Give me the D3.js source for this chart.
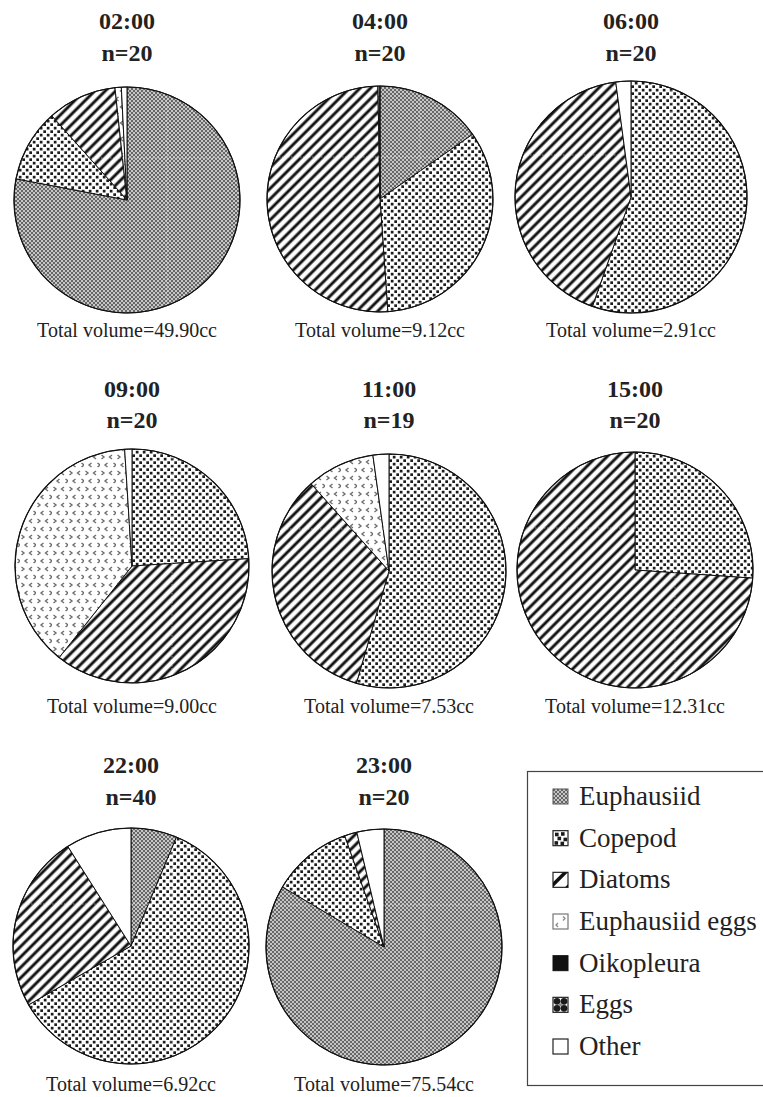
<!DOCTYPE html>
<html>
<head>
<meta charset="utf-8">
<script src="https://cdn.jsdelivr.net/npm/d3@7"></script>
<style>
  html, body { margin: 0; padding: 0; background: #fff; }
  svg { display: block; }
</style>
</head>
<body>
<svg id="chart" width="763" height="1097"></svg>
<script>
// Sampling times, sample sizes and total stomach-content volumes
const times = ["02:00", "04:00", "06:00", "09:00", "11:00", "15:00", "22:00", "23:00"];
const sampleSizes = [20, 20, 20, 20, 19, 20, 40, 20];
const totalVolumes = ["49.90", "9.12", "2.91", "9.00", "7.53", "12.31", "6.92", "75.54"];

// Prey categories (legend order = slice order, clockwise from 12 o'clock)
const categories = ["Euphausiid", "Copepod", "Diatoms", "Euphausiid eggs", "Oikopleura", "Eggs", "Other"];

// Percent of total volume per category, one value per sampling time
const euphausiid     = [78.0, 15.3,  0.0,  0.0,  0.0,  0.0,  6.3, 83.5];
const copepod        = [10.4, 33.6, 55.4, 24.0, 54.5, 26.1, 60.4, 11.1];
const diatoms        = [ 9.9, 50.8, 42.5, 36.7, 33.9, 73.9, 24.3,  1.7];
const euphausiidEggs = [ 0.9,  0.2,  0.0, 38.3,  9.4,  0.0,  0.0,  0.0];
const oikopleura     = [ 0.0,  0.0,  0.0,  0.0,  0.0,  0.0,  0.0,  0.0];
const eggs           = [ 0.0,  0.0,  0.0,  0.0,  0.0,  0.0,  0.0,  0.0];
const other          = [ 0.8,  0.1,  2.1,  1.0,  2.2,  0.0,  9.0,  3.7];

const seriesByCategory = [euphausiid, copepod, diatoms, euphausiidEggs, oikopleura, eggs, other];

// ---- layout (pie centres / radii per panel, text rows) ----
const panelCx = [127, 380, 631, 132, 389, 635, 131, 384];
const panelCy = [200, 199, 197, 566, 571, 570, 946, 947];
const panelR  = [113, 113, 116, 117, 117, 118, 118, 118];
const panelRow = [0, 0, 0, 1, 1, 1, 2, 2];
const timeBaseline  = [29, 397, 773];
const nBaseline     = [61, 428, 805];
const totalBaseline = [337, 713, 1091];

const serif = "'Liberation Serif', 'Times New Roman', Times, serif";

const svg = d3.select("#chart");
const defs = svg.append("defs");

// ---- fill patterns ----
function makePattern(id, w, h, extra) {
  const p = defs.append("pattern")
    .attr("id", id)
    .attr("patternUnits", "userSpaceOnUse")
    .attr("width", w).attr("height", h);
  if (extra) extra(p);
  return p;
}

// Euphausiid: fine grey checker
makePattern("pat-euph", 4, 4, p => {
  p.append("rect").attr("width", 4).attr("height", 4).attr("fill", "#c6c6c6");
  p.append("rect").attr("x", 0).attr("y", 0).attr("width", 2).attr("height", 2).attr("fill", "#666");
  p.append("rect").attr("x", 2).attr("y", 2).attr("width", 2).attr("height", 2).attr("fill", "#666");
});

// Copepod: staggered dark dots on white
makePattern("pat-cope", 7, 7, p => {
  p.append("rect").attr("width", 7).attr("height", 7).attr("fill", "#fff");
  p.append("rect").attr("x", 0.3).attr("y", 0.3).attr("width", 2.7).attr("height", 2.7).attr("fill", "#1c1c1c");
  p.append("rect").attr("x", 3.8).attr("y", 3.8).attr("width", 2.7).attr("height", 2.7).attr("fill", "#1c1c1c");
});

// Diatoms: soft-edged diagonal stripes
const stripeGrad = defs.append("linearGradient").attr("id", "grad-stripe")
  .attr("x1", 0).attr("x2", 1).attr("y1", 0).attr("y2", 0);
[[0, "#fff"], [0.18, "#fff"], [0.42, "#111"], [0.58, "#111"], [0.82, "#fff"], [1, "#fff"]]
  .forEach(([o, c]) => stripeGrad.append("stop").attr("offset", o).attr("stop-color", c));
makePattern("pat-diat", 7.4, 7.4, p => {
  p.attr("patternTransform", "rotate(45)");
  p.append("rect").attr("width", 7.4).attr("height", 7.4).attr("fill", "url(#grad-stripe)");
});

// Euphausiid eggs: grey chevrons, alternating direction
makePattern("pat-eegg", 16, 16, p => {
  p.append("rect").attr("width", 16).attr("height", 16).attr("fill", "#fff");
  const chev = [
    "M1.5,1 L4,3 L1.5,5",
    "M12,1 L9.5,3 L12,5",
    "M7.5,9 L5,11 L7.5,13",
    "M13.5,9 L16,11 L13.5,13"
  ];
  chev.forEach(d => p.append("path").attr("d", d).attr("fill", "none")
    .attr("stroke", "#6f6f6f").attr("stroke-width", 1.4));
});

// Eggs: black blobs
makePattern("pat-eggs", 8, 8, p => {
  p.append("rect").attr("width", 8).attr("height", 8).attr("fill", "#fff");
  p.append("circle").attr("cx", 2).attr("cy", 2).attr("r", 2.2).attr("fill", "#111");
  p.append("circle").attr("cx", 6).attr("cy", 6).attr("r", 2.2).attr("fill", "#111");
});

const fills = ["url(#pat-euph)", "url(#pat-cope)", "url(#pat-diat)", "url(#pat-eegg)", "#111", "url(#pat-eggs)", "#fff"];
const color = d3.scaleOrdinal().domain(categories).range(fills);

// ---- pies ----
const pie = d3.pie().sort(null).value(d => d.value);

times.forEach((t, i) => {
  const cx = panelCx[i], cy = panelCy[i], r = panelR[i], row = panelRow[i];
  const data = categories.map((c, k) => ({ category: c, value: seriesByCategory[k][i] }))
    .filter(d => d.value > 0);
  const arc = d3.arc().innerRadius(0).outerRadius(r);

  const g = svg.append("g").attr("transform", `translate(${cx},${cy})`);

  g.selectAll("path.slice")
    .data(pie(data))
    .join("path")
    .attr("class", "slice")
    .attr("d", arc)
    .attr("fill", d => color(d.data.category))
    .attr("stroke", "#111")
    .attr("stroke-width", 1)
    .attr("stroke-linejoin", "round");

  // faint tile seams across the fill
  const clipId = "clip-" + i;
  defs.append("clipPath").attr("id", clipId)
    .append("circle").attr("cx", cx).attr("cy", cy).attr("r", r - 1.5);
  const seams = svg.append("g").attr("clip-path", `url(#${clipId})`)
    .attr("stroke", "#fff").attr("stroke-opacity", 0.45).attr("stroke-width", 1)
    .attr("stroke-dasharray", "1.5 1.5");
  seams.append("line").attr("x1", cx + 40).attr("x2", cx + 40).attr("y1", cy - r).attr("y2", cy + r);
  seams.append("line").attr("x1", cx - r).attr("x2", cx + r).attr("y1", cy - 42).attr("y2", cy - 42);

  svg.append("circle").attr("cx", cx).attr("cy", cy).attr("r", r)
    .attr("fill", "none").attr("stroke", "#111").attr("stroke-width", 1.2);

  svg.append("text")
    .attr("x", cx).attr("y", timeBaseline[row])
    .attr("text-anchor", "middle")
    .attr("font-family", serif)
    .attr("font-weight", "bold").attr("font-size", 24).attr("fill", "#222")
    .text(t);
  svg.append("text")
    .attr("x", cx).attr("y", nBaseline[row])
    .attr("text-anchor", "middle")
    .attr("font-family", serif)
    .attr("font-weight", "bold").attr("font-size", 24).attr("fill", "#222")
    .text("n=" + sampleSizes[i]);
  svg.append("text")
    .attr("x", cx).attr("y", totalBaseline[row])
    .attr("text-anchor", "middle")
    .attr("font-family", serif)
    .attr("font-size", 20).attr("fill", "#222")
    .text("Total volume=" + totalVolumes[i] + "cc");
});

// ---- legend ----
const legend = svg.append("g");
legend.append("rect")
  .attr("x", 527.5).attr("y", 771.5).attr("width", 260).attr("height", 314)
  .attr("fill", "#fff").attr("stroke", "#444").attr("stroke-width", 1.2);

// swatch artwork, drawn in a 15x15 box
const sw = 15;
function drawSwatch(gs, k) {
  if (k === 0) {
    gs.append("rect").attr("width", sw).attr("height", sw).attr("fill", "url(#pat-euph)")
      .attr("stroke", "#555").attr("stroke-width", 1);
  } else if (k === 1) {
    gs.append("rect").attr("width", sw).attr("height", sw).attr("fill", "#fff")
      .attr("stroke", "#222").attr("stroke-width", 1.2);
    [[2, 2], [8, 1.5], [4.5, 6], [10.5, 7], [1.5, 10.5], [7.5, 11]].forEach(([x, y]) =>
      gs.append("rect").attr("x", x).attr("y", y).attr("width", 3.6).attr("height", 3.6).attr("fill", "#1a1a1a"));
  } else if (k === 2) {
    gs.append("rect").attr("width", sw).attr("height", sw).attr("fill", "#fff")
      .attr("stroke", "#222").attr("stroke-width", 1.2);
    gs.append("path").attr("d", `M0,${sw} L0,${sw - 5} L${sw - 5},0 L${sw},0 Z`).attr("fill", "#111");
    gs.append("path").attr("d", `M${sw},${sw} L${sw},${sw - 3} L${sw - 3},${sw} Z`).attr("fill", "#111");
  } else if (k === 3) {
    gs.append("rect").attr("width", sw).attr("height", sw).attr("fill", "#fff")
      .attr("stroke", "#777").attr("stroke-width", 1.2);
    gs.append("path").attr("d", "M10,2.5 L12,4.5 L10,6.5").attr("fill", "none").attr("stroke", "#888").attr("stroke-width", 1.3);
    gs.append("path").attr("d", "M5,9 L3,11 L5,13").attr("fill", "none").attr("stroke", "#888").attr("stroke-width", 1.3);
  } else if (k === 4) {
    gs.append("rect").attr("width", sw).attr("height", sw).attr("fill", "#111")
      .attr("stroke", "#111").attr("stroke-width", 1);
  } else if (k === 5) {
    gs.append("rect").attr("width", sw).attr("height", sw).attr("fill", "#fff")
      .attr("stroke", "#222").attr("stroke-width", 1.2);
    [[4, 4], [11, 4], [4, 11], [11, 11]].forEach(([x, y]) =>
      gs.append("circle").attr("cx", x).attr("cy", y).attr("r", 3.4).attr("fill", "#1a1a1a"));
    gs.append("circle").attr("cx", 7.5).attr("cy", 7.5).attr("r", 1.6).attr("fill", "#888");
  } else {
    gs.append("rect").attr("width", sw).attr("height", sw).attr("fill", "#fff")
      .attr("stroke", "#222").attr("stroke-width", 1.2);
  }
}

const legendY = d3.scaleLinear().domain([0, categories.length - 1]).range([797, 1047]);
categories.forEach((c, k) => {
  const y = legendY(k);
  const gs = legend.append("g").attr("transform", `translate(553,${y - 8})`);
  drawSwatch(gs, k);
  legend.append("text")
    .attr("x", 579).attr("y", y + 8)
    .attr("font-family", serif)
    .attr("font-size", 27).attr("fill", "#222")
    .text(c);
});
</script>
</body>
</html>
